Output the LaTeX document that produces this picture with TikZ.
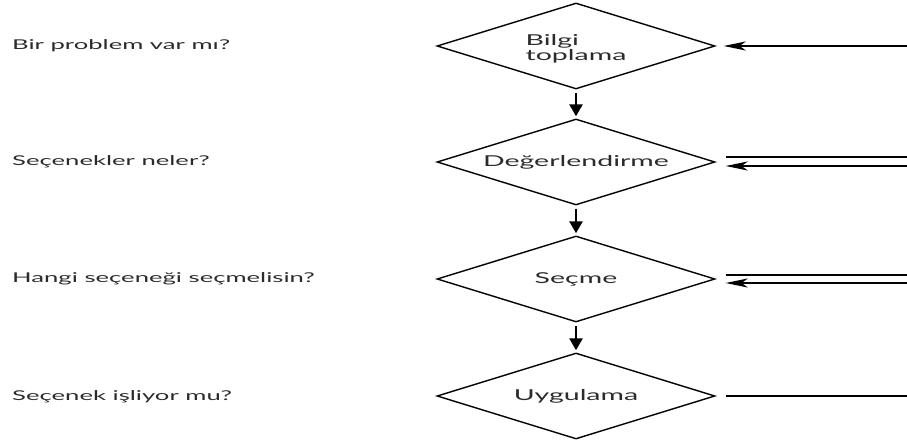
\documentclass[tikz,border=0pt]{standalone}
\usepackage{fontspec}
\setmainfont{Lato}[FakeStretch=1.9]
\usetikzlibrary{shapes.geometric,arrows.meta,calc}
\definecolor{ink}{HTML}{2B2B2B}
\begin{document}
\begin{tikzpicture}[x=1pt,y=-1pt,
  dia/.style={draw=black,line width=1.4pt,shape=diamond,minimum width=278pt,minimum height=86pt,inner sep=0pt},
  lbl/.style={font=\fontsize{15}{13.5}\selectfont,text=ink,inner sep=0pt},
  q/.style={anchor=base west,font=\fontsize{13.5}{15}\selectfont,text=ink,inner sep=0pt},
  down/.style={line width=2.6pt,-{Triangle[length=12pt,width=13pt]},shorten >=2pt},
  back/.style={line width=1.7pt,-{Stealth[length=22pt,width=9pt,inset=6pt]}},
  plain/.style={line width=1.7pt}]
\useasboundingbox[fill=white] (0,0) rectangle (907,443);
% diamonds
\node[dia,label={[lbl,align=left,yshift=-2.5pt]center:Bilgi\\toplama}] (d1) at (576,46) {};
\node[dia,label={[lbl]center:Değerlendirme}] (d2) at (576,162) {};
\node[dia,label={[lbl]center:Seçme}] (d3) at (576,279) {};
\node[dia,label={[lbl]center:Uygulama}] (d4) at (576,396) {};
% questions
\node[q] (q1) at (12,50) {Bir problem var mı?};
\node[q] (q2) at (12,166) {Seçenekler neler?};
\node[q] (q3) at (12,283) {Hangi seçeneği seçmelisin?};
\node[q] (q4) at (12,400) {Seçenek işliyor mu?};
% downward arrows
\draw[down] ($(d1.south)+(0,3)$) -- (d2.north);
\draw[down] ($(d2.south)+(0,3)$) -- (d3.north);
\draw[down] ($(d3.south)+(0,3)$) -- (d4.north);
% right side
\coordinate (r1) at (907,46);
\coordinate (r2a) at (907,157);
\coordinate (r2b) at (907,166);
\coordinate (r3a) at (907,275);
\coordinate (r3b) at (907,283);
\coordinate (r4) at (907,396);
\draw[back] (r1) -- ($(d1.east)+(8,0)$);
\draw[plain] ($(d2.east)+(10,-5)$) -- (r2a);
\draw[back] (r2b) -- ($(d2.east)+(10,4)$);
\draw[plain] ($(d3.east)+(10,-4)$) -- (r3a);
\draw[back] (r3b) -- ($(d3.east)+(10,4)$);
\draw[plain] ($(d4.east)+(10,0)$) -- (r4);
\end{tikzpicture}
\end{document}
